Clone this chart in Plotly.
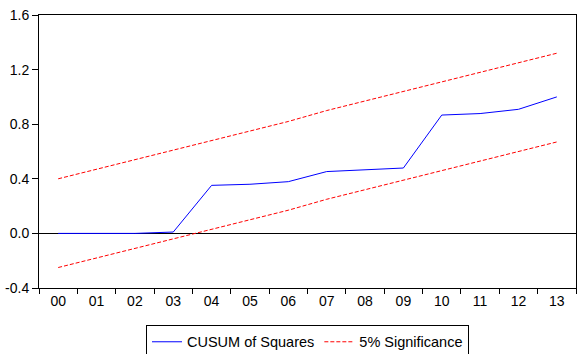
import plotly.graph_objects as go

years = ["00", "01", "02", "03", "04", "05", "06", "07", "08", "09", "10", "11", "12", "13"]
cusum_sq = [0.0, 0.0, 0.0, 0.01, 0.352, 0.360, 0.379, 0.453, 0.467, 0.479, 0.867, 0.878, 0.909, 1.0]
upper_5 = [0.40, 0.47, 0.54, 0.61, 0.68, 0.75, 0.82, 0.90, 0.97, 1.04, 1.11, 1.18, 1.25, 1.32]
lower_5 = [-0.25, -0.18, -0.11, -0.04, 0.03, 0.10, 0.17, 0.25, 0.32, 0.39, 0.46, 0.53, 0.60, 0.67]
y_ticks = [-0.4, 0.0, 0.4, 0.8, 1.2, 1.6]
y_tick_text = ["-0.4", "0.0", "0.4", "0.8", "1.2", "1.6"]

font = dict(family="Liberation Sans, Arial, sans-serif", size=14, color="black")
legend_font = dict(family="Liberation Sans, Arial, sans-serif", size=14.5, color="black")

fig = go.Figure()
fig.add_trace(go.Scatter(x=years, y=cusum_sq, mode="lines", name="CUSUM of Squares",
                         line=dict(color="#0000FF", width=1)))
fig.add_trace(go.Scatter(x=years, y=upper_5, mode="lines", name="5% Significance",
                         line=dict(color="#FF0000", width=1, dash="4px,2px")))
fig.add_trace(go.Scatter(x=years, y=lower_5, mode="lines", name="5% Significance",
                         showlegend=False,
                         line=dict(color="#FF0000", width=1, dash="4px,2px")))

fig.update_layout(
    width=582, height=354,
    margin=dict(l=39, r=6, t=15, b=66, autoexpand=False),
    paper_bgcolor="white", plot_bgcolor="white",
    font=font,
    showlegend=True,
    legend=dict(orientation="h", x=0.5, xanchor="center", y=-0.135, yanchor="top",
                bordercolor="black", borderwidth=1, font=legend_font,
                tracegroupgap=0, itemwidth=30),
)
fig.update_xaxes(type="category", range=[-0.5, 13.5], automargin=False,
                 showline=True, linecolor="black", linewidth=1,
                 mirror=True, ticks="outside", ticklen=5, tickcolor="black",
                 tickson="boundaries", showgrid=False, zeroline=False,
                 tickfont=font, ticklabeloverflow="allow")
fig.update_yaxes(range=[-0.4, 1.6], tickvals=y_ticks, ticktext=y_tick_text,
                 automargin=False,
                 showline=True, linecolor="black", linewidth=1, mirror=True,
                 ticks="outside", ticklen=6, tickcolor="black", showgrid=False,
                 zeroline=True, zerolinecolor="black", zerolinewidth=1,
                 tickfont=font, ticklabeloverflow="allow")

fig.write_html("out.html",
               config={"displayModeBar": False},
               post_script="document.body.style.margin='0';document.body.style.overflow='hidden';")
